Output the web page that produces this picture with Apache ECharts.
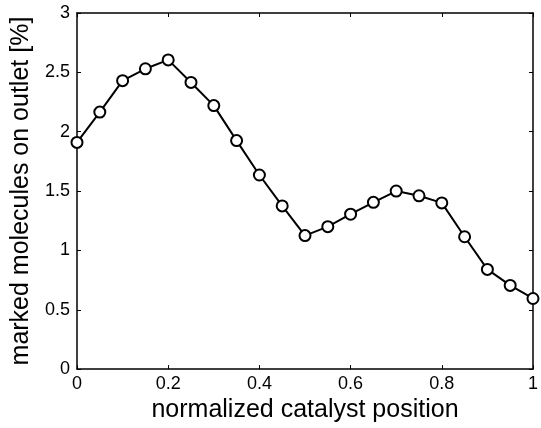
<!DOCTYPE html>
<html><head><meta charset="utf-8">
<script src="https://cdn.jsdelivr.net/npm/echarts@6/dist/echarts.min.js"></script>
<style>html,body{margin:0;padding:0;background:#fff}#c{width:541px;height:428px}</style>
</head><body><div id="c"></div>
<script>
const positions = [0,0.05,0.1,0.15,0.2,0.25,0.3,0.35,0.4,0.45,0.5,0.55,0.6,0.65,0.7,0.75,0.8,0.85,0.9,0.95,1.0];
const values = [1.91,2.165,2.43,2.53,2.605,2.415,2.22,1.925,1.635,1.375,1.125,1.2,1.305,1.405,1.5,1.46,1.4,1.115,0.84,0.705,0.595];
const xTitle = 'normalized catalyst position';
const yTitle = 'marked molecules on outlet [%]';
const font = 'Liberation Sans, Arial, sans-serif';
function axisLine(){ return {show:true, onZero:false, lineStyle:{color:'#000', width:1.5}}; }
function tick(){ return {show:true, inside:true, length:4, lineStyle:{color:'#000', width:1}}; }
const chart = echarts.init(document.getElementById('c'), null, {renderer:'canvas'});
chart.setOption({
  animation:false,
  backgroundColor:'#fff',
  grid:{left:77, right:2, top:13, bottom:58, containLabel:false},
  xAxis:[{
    type:'value', min:0, max:1, interval:0.2, position:'bottom',
    name:xTitle, nameLocation:'middle', nameGap:27,
    nameTextStyle:{fontFamily:font, fontSize:25, color:'#000'},
    axisLine:axisLine(), axisTick:tick(), splitLine:{show:false},
    axisLabel:{fontFamily:font, fontSize:18, color:'#000', margin:6, formatter:v=>String(+v.toFixed(1))}
  },{
    type:'value', min:0, max:1, interval:0.2, position:'top',
    axisLine:axisLine(), axisTick:tick(), splitLine:{show:false}, axisLabel:{show:false}
  }],
  yAxis:[{
    type:'value', min:0, max:3, interval:0.5, position:'left',
    name:yTitle, nameLocation:'middle', nameGap:40,
    nameTextStyle:{fontFamily:font, fontSize:25, color:'#000'},
    axisLine:axisLine(), axisTick:tick(), splitLine:{show:false},
    axisLabel:{fontFamily:font, fontSize:18, color:'#000', margin:7, formatter:v=>String(+v.toFixed(1))}
  },{
    type:'value', min:0, max:3, interval:0.5, position:'right',
    axisLine:axisLine(), axisTick:tick(), splitLine:{show:false}, axisLabel:{show:false}
  }],
  series:[{
    type:'line', data:positions.map((p,i)=>[p,values[i]]),
    symbol:'emptyCircle', symbolSize:11, showAllSymbol:true,
    lineStyle:{color:'#000', width:2},
    itemStyle:{color:'#000', borderColor:'#000', borderWidth:2},
    clip:false
  }]
});
</script></body></html>
